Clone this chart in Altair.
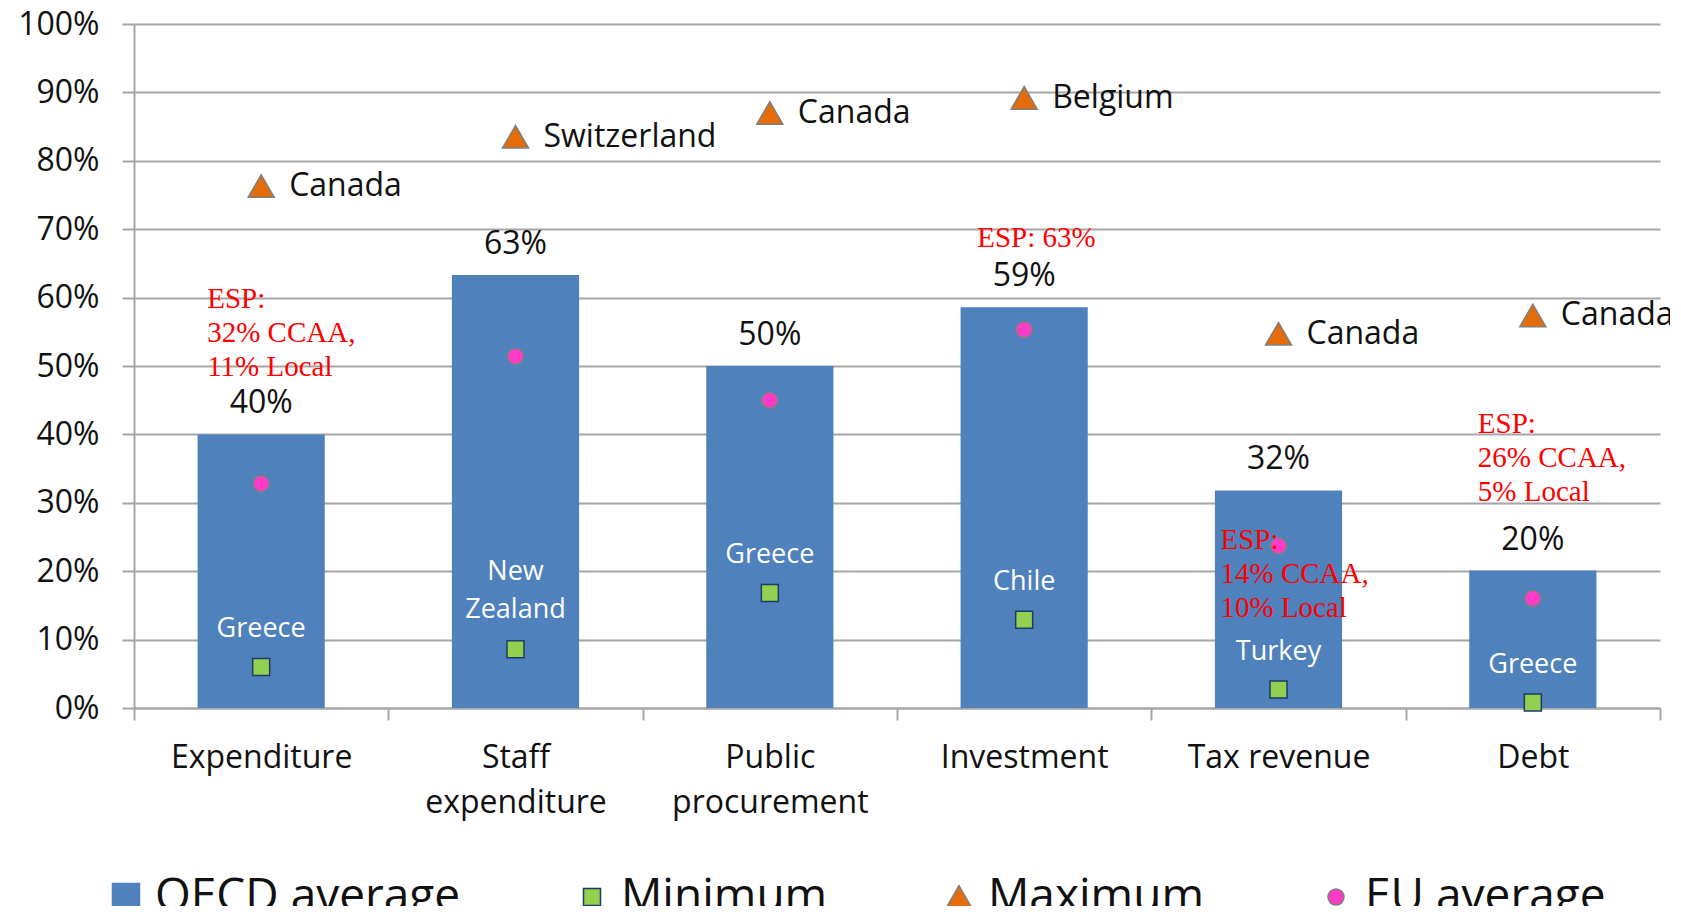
import altair as alt
import pandas as pd

# ---------------- data ----------------
categories = ["Expenditure", "Staff expenditure", "Public procurement",
              "Investment", "Tax revenue", "Debt"]
oecd_average = [0.400, 0.633, 0.500, 0.586, 0.318, 0.201]
minimum = [0.060, 0.086, 0.168, 0.129, 0.027, 0.008]
minimum_country = ["Greece", "New\nZealand", "Greece", "Chile", "Turkey", "Greece"]
maximum = [0.763, 0.835, 0.870, 0.892, 0.547, 0.574]
maximum_country = ["Canada", "Switzerland", "Canada", "Belgium", "Canada", "Canada"]
eu_average = [0.328, 0.514, 0.450, 0.553, 0.237, 0.160]

esp_category = ["Expenditure", "Investment", "Tax revenue", "Debt"]
esp_text = ["ESP:\n32% CCAA,\n11% Local", "ESP: 63%",
            "ESP:\n14% CCAA,\n10% Local", "ESP:\n26% CCAA,\n5% Local"]
esp_anchor = [0.618, 0.707, 0.266, 0.435]

series = ["OECD average", "Minimum", "Maximum", "EU average"]
y_ticks = [0, 0.1, 0.2, 0.3, 0.4, 0.5, 0.6, 0.7, 0.8, 0.9, 1.0]

# ---------------- styles ----------------
series_colors = ["#4F81BD", "#92D050", "#E46C0A", "#FF3CC8"]
series_shapes = ["square", "square", "triangle-up", "circle"]
series_sizes = [729, 289, 676, 256]
series_strokes = ["#4F81BD", "#1F3B66", "#7F7F7F", "#7F7F7F"]
esp_dx = [-54, -47, -58, -55]
SANS = "Open Sans"
SERIF = "Liberation Serif"
GRID = "#A6A6A6"

df = pd.DataFrame({
    "category": categories,
    "oecd": oecd_average,
    "min": minimum,
    "min_country": minimum_country,
    "max": maximum,
    "max_country": maximum_country,
    "eu": eu_average,
})
esp_df = pd.DataFrame({"category": esp_category, "text": esp_text, "anchor": esp_anchor})

x_axis = alt.Axis(
    labelExpr="datum.label == 'Tax revenue' ? datum.label : split(datum.label, ' ')",
    labelAngle=0, labelFont=SANS, labelFontSize=32, labelColor="#111",
    labelLineHeight=45, labelPadding=22, labelBaseline="top", labelLimit=0,
    tickBand="extent", tickSize=12, tickColor=GRID, tickWidth=2,
    domainColor=GRID, domainWidth=2, grid=False,
)
y_axis = alt.Axis(
    values=y_ticks, format=".0%", labelFont=SANS, labelFontSize=32,
    labelColor="#111", labelPadding=23, tickSize=12, tickColor=GRID,
    tickWidth=2, domainColor=GRID, domainWidth=2, grid=True,
    gridColor=GRID, gridWidth=2,
)

x_enc = alt.X("category:N", sort=categories, title=None, axis=x_axis,
              scale=alt.Scale(paddingInner=0, paddingOuter=0))


def y_enc(field):
    return alt.Y(f"{field}:Q", title=None, axis=y_axis,
                 scale=alt.Scale(domain=[0, 1], nice=False))


color_enc = alt.Color("series:N", title=None,
                      scale=alt.Scale(domain=series, range=series_colors))
shape_enc = alt.Shape("series:N", title=None,
                      scale=alt.Scale(domain=series, range=series_shapes))
size_enc = alt.Size("series:N", title=None,
                    scale=alt.Scale(type="ordinal", domain=series, range=series_sizes))
stroke_enc = alt.Stroke("series:N", title=None,
                        scale=alt.Scale(domain=series, range=series_strokes))

base = alt.Chart(df)

bars = base.transform_calculate(series="'OECD average'").mark_bar(
    color="#4F81BD", width=alt.RelativeBandSize(0.5)
).encode(x=x_enc, y=y_enc("oecd"), color=color_enc)

bar_labels = base.mark_text(
    font=SANS, fontSize=32, color="#111", baseline="middle", dy=-31
).encode(x=x_enc, y=y_enc("oecd"), text=alt.Text("oecd:Q", format=".0%"))


def points(field, name):
    return base.transform_calculate(series=f"'{name}'").mark_point(
        filled=True, opacity=1, strokeWidth=1.5
    ).encode(x=x_enc, y=y_enc(field), color=color_enc, shape=shape_enc,
             size=size_enc, stroke=stroke_enc)


min_pts = points("min", "Minimum")
max_pts = points("max", "Maximum")
eu_pts = points("eu", "EU average")

min_labels_single = base.transform_filter(
    "indexof(datum.min_country, '\\n') < 0"
).mark_text(
    font=SANS, fontSize=27, color="white", baseline="middle", dy=-38
).encode(x=x_enc, y=y_enc("min"), text="min_country:N")

min_labels_multi = base.transform_filter(
    "indexof(datum.min_country, '\\n') >= 0"
).mark_text(
    font=SANS, fontSize=27, color="white", baseline="middle", lineBreak="\n",
    lineHeight=38, dy=-77
).encode(x=x_enc, y=y_enc("min"), text="min_country:N")

max_labels = base.mark_text(
    font=SANS, fontSize=32, color="#111", align="left", baseline="middle", dx=28
).encode(x=x_enc, y=y_enc("max"), text="max_country:N")

esp_layers = []
for cat, dx in zip(esp_category, esp_dx):
    esp_layers.append(
        alt.Chart(esp_df).transform_filter(alt.datum.category == cat).mark_text(
            font=SERIF, fontSize=29, color="#FF0000", align="left",
            baseline="top", lineBreak="\n", lineHeight=34, dx=dx
        ).encode(x=x_enc, y=y_enc("anchor"), text="text:N")
    )

chart = alt.layer(
    bars, bar_labels, eu_pts, min_pts, max_pts,
    min_labels_single, min_labels_multi, max_labels, *esp_layers
).properties(
    width=1526, height=684,
    autosize=alt.AutoSizeParams(type="none"),
    padding={"left": 126, "top": 16, "right": 10, "bottom": 198},
).configure_view(strokeWidth=0).configure_legend(
    orient="none", legendX=-31, legendY=850, direction="horizontal",
    labelFont=SANS, labelFontSize=46, labelColor="#111", columnPadding=108,
    labelOffset=6, labelLimit=0, symbolStrokeWidth=1.5, padding=0,
)

chart.save("out.html", embed_options={"renderer": "svg", "actions": False})
